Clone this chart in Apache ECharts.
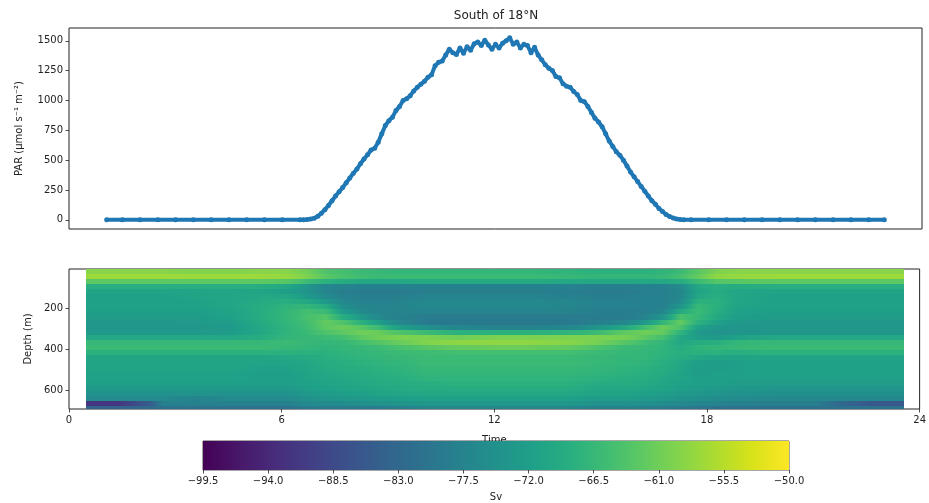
<!DOCTYPE html>
<html><head><meta charset="utf-8">
<script src="https://cdn.jsdelivr.net/npm/echarts@6/dist/echarts.min.js"></script>
<style>html,body{margin:0;padding:0;background:#fff}#c{width:929px;height:503px}</style>
</head><body><div id="c"></div>
<script>
// ---- PAR (top panel) ----
const parTimes = [1.06,1.5,2.0,2.5,3.0,3.5,4.0,4.5,5.0,5.5,6.0,6.5,
 6.6,6.7,6.8,6.9,7.0,7.1,7.2,7.3,7.4,7.5,7.6,7.7,7.8,7.9,8.0,8.1,8.2,8.3,8.4,8.5,8.6,8.7,8.8,8.9,9.0,9.1,9.2,9.3,9.4,9.5,
 9.6,9.7,9.8,9.9,10.0,10.1,10.2,10.3,10.4,10.5,10.6,10.7,10.8,10.9,11.0,11.1,11.2,11.3,11.4,11.5,11.6,11.7,11.8,11.9,12.0,
 12.1,12.2,12.3,12.4,12.5,12.6,12.7,12.8,12.9,13.0,13.1,13.2,13.3,13.4,13.5,13.6,13.7,13.8,13.9,14.0,14.1,14.2,14.3,14.4,14.5,
 14.6,14.7,14.8,14.9,15.0,15.1,15.2,15.3,15.4,15.5,15.6,15.7,15.8,15.9,16.0,16.1,16.2,16.3,16.4,16.5,16.6,16.7,16.8,16.9,17.0,
 17.1,17.2,17.3,17.5,18.0,18.5,19.0,19.5,20.0,20.5,21.0,21.5,22.0,22.5,22.94];
const parValues = [0,0,0,0,0,0,0,0,0,0,0,0,
 1,3,7,14,30,55,85,120,160,200,235,270,310,350,390,425,470,510,545,585,600,650,720,790,830,860,915,950,1000,1015,
 1040,1080,1110,1135,1160,1195,1215,1290,1320,1330,1380,1430,1400,1385,1440,1395,1450,1420,1475,1490,1460,1505,1465,1430,1470,
 1440,1480,1500,1525,1470,1490,1440,1470,1460,1400,1445,1380,1340,1300,1270,1250,1200,1190,1140,1120,1110,1075,1050,1000,990,
 950,900,850,820,780,720,660,615,570,540,500,450,400,360,320,280,240,200,160,130,95,70,45,28,15,
 7,3,0,0,0,0,0,0,0,0,0,0,0,0,0];

// ---- Sv heatmap (bottom panel): column edges (h), row edges (m), one Sv column per time slot ----
const timeEdges = [0.48,2.3,3.0,4.1,5.0,5.75,6.5,7.0,7.5,8.0,8.5,9.0,9.75,10.5,11.5,12.5,13.5,14.5,15.25,16.0,16.5,17.0,17.5,18.0,18.5,19.25,20.5,21.6,23.55];
const depthEdges = [8,30,55,80,105,130,155,180,205,230,255,280,305,330,355,380,405,430,455,480,505,530,555,580,605,630,655,675,692];
const svColumns = [
 [-59,-57.5,-62.5,-68.5,-71,-71.5,-71.5,-71.5,-72,-72.5,-73.5,-73.5,-73,-70,-66.5,-66,-68,-70.5,-71,-71,-71.5,-71.5,-72,-73,-74.5,-76,-92,-84],
 [-59,-57.5,-62.5,-68.5,-71,-71.5,-71.5,-71.5,-72,-72.5,-73.5,-73.5,-73,-70,-66.5,-66,-68,-70.5,-71,-71,-71.5,-71.5,-72,-73,-74.5,-76,-78,-81],
 [-59.5,-57.5,-62.5,-68.5,-71,-71,-71.5,-71.5,-72,-72.5,-73,-73.5,-73,-70,-66.5,-66,-68,-70.5,-71,-71,-71.5,-71.5,-72,-73,-74.5,-77.5,-78,-81],
 [-59.5,-57.5,-62.5,-68.5,-70.5,-70.5,-70.5,-70.5,-71,-71.5,-72.5,-73,-72.5,-70,-66.5,-66,-68,-70.5,-71,-71,-71.5,-71.5,-72,-73,-74.5,-76,-78,-81],
 [-59,-57.5,-62.5,-68.5,-70.5,-70,-69.5,-69,-69,-69,-69.5,-70,-70,-69,-66.5,-66,-68,-70.5,-71,-71.5,-72,-72,-72,-73,-74.5,-76,-78,-81],
 [-59,-58,-63,-70,-72,-70,-68.5,-67.5,-67,-67,-67,-67.5,-67.5,-67,-66,-66.5,-68,-70,-71,-71.5,-72,-72,-72,-73,-74.5,-76,-78,-81],
 [-61,-60,-66,-74,-74,-73,-70,-67,-65,-64.5,-65,-65.5,-66,-66.5,-66.5,-67,-68,-69.5,-70,-70.5,-71,-71,-71.5,-72,-73,-74.5,-76,-79],
 [-64,-63,-68,-77,-77.5,-76,-73,-69,-66,-63.5,-62,-62.5,-64,-66,-67,-67.5,-68,-68.5,-69,-69.5,-70,-70.5,-71,-71.5,-72.5,-74,-76,-79],
 [-65,-64.5,-69,-77.5,-78.5,-78,-77,-75.5,-73,-69,-64,-61.5,-62.5,-65,-66.5,-67,-67.5,-68,-68.5,-69,-69.5,-70,-70.5,-71,-72,-73.5,-75.5,-79],
 [-66,-65.5,-70,-78,-79,-78.5,-78,-77,-76,-73,-68,-63,-61,-62.5,-65,-66.5,-67,-67.5,-68,-68.5,-69,-69.5,-70,-70.5,-71.5,-73,-75,-79],
 [-66.5,-66,-70,-78,-79,-78.5,-78,-77.5,-77.5,-76.5,-72,-66,-61.5,-61,-63.5,-66,-66.5,-67,-67.5,-68,-68.5,-69,-69.5,-70,-71,-72.5,-74.5,-79],
 [-67,-66,-70,-78,-79,-78.5,-77.5,-77,-77.5,-78,-77,-72,-64,-60,-61.5,-64.5,-66,-66.5,-67,-67.5,-68,-68.5,-69,-69.5,-70.5,-72,-74,-78],
 [-67,-66,-69.5,-78,-78.5,-77.5,-76.5,-76.5,-77.5,-79,-79.5,-75,-66,-60,-59.5,-63,-65.5,-66,-66,-66.5,-67,-67.5,-68.5,-69,-70,-71.5,-73.5,-77],
 [-67,-66,-69.5,-78,-78.5,-77.5,-76.5,-76.5,-77.5,-79,-79.5,-77,-68,-61,-58.5,-62,-65,-66,-66,-66.5,-67,-67.5,-68,-69,-70,-71.5,-73.5,-77],
 [-67,-66,-69.5,-78,-78.5,-77.5,-76.5,-76.5,-77.5,-79,-79.5,-77.5,-68,-60,-58.5,-61.5,-65,-66,-66,-66.5,-67,-67.5,-68,-69,-70,-71.5,-73.5,-77],
 [-67,-66,-69.5,-78,-78.5,-77.5,-76.5,-76.5,-77.5,-79,-79.5,-77.5,-68,-60,-58.5,-61.5,-65,-66,-66,-66.5,-67,-67.5,-68,-69,-70,-71.5,-73.5,-77],
 [-67.5,-66.5,-70,-78,-78.5,-78,-77,-77,-77.5,-79,-79.5,-77,-67.5,-60,-59,-62,-65,-66,-66,-66.5,-67,-67.5,-68,-69,-70,-71.5,-73.5,-77],
 [-68,-67,-70,-78.5,-79,-78.5,-78,-78,-78.5,-79,-78.5,-74,-66,-60,-60.5,-64,-66,-66.5,-66.5,-67,-67.5,-68,-69,-70,-71,-72.5,-74.5,-78],
 [-68,-67,-70,-78.5,-79,-78.5,-78,-78,-78.5,-79,-77,-70,-62.5,-60.5,-63,-66,-66.5,-67,-67,-67.5,-68,-68.5,-69,-70,-71,-72.5,-74.5,-78],
 [-68,-67,-70,-78,-78.5,-78,-78,-78,-78.5,-77.5,-73,-65,-61,-62.5,-65.5,-66.5,-67,-67,-67.5,-68,-68.5,-69,-69.5,-70.5,-71.5,-73,-75,-78.5],
 [-67.5,-66.5,-70,-78,-78,-78,-78,-78,-77,-74,-67,-61.5,-62,-65,-67,-67.5,-67.5,-68,-68.5,-69,-69.5,-70,-70.5,-71,-72,-73.5,-75.5,-79],
 [-66,-65,-69,-76,-77,-77,-76,-74,-69.5,-64.5,-62,-64,-67.5,-70,-70,-69,-68.5,-69,-70,-70.5,-71,-71,-71.5,-72,-73,-74.5,-76.5,-79.5],
 [-63,-62,-66,-70,-71,-70,-68,-66.5,-66,-66.5,-68,-71.5,-73,-72.5,-69,-67.5,-68,-70,-72,-72.5,-72.5,-72,-72,-72.5,-73.5,-75,-77,-80],
 [-60,-58.5,-63.5,-68.5,-69,-68.5,-68,-68,-68.5,-69.5,-71.5,-73.5,-74.5,-73,-68.5,-67,-68,-71,-72.5,-72.5,-72,-72,-72,-73,-74,-75.5,-77.5,-81],
 [-59,-58,-63,-69,-70.5,-70.5,-70.5,-71,-71.5,-72,-73,-74,-74,-71.5,-67,-66.5,-68.5,-71,-72,-72,-72,-72,-72.5,-73.5,-74.5,-76,-78,-81],
 [-59,-57.5,-62.5,-68.5,-71,-71.5,-71.5,-71.5,-72,-72.5,-73.5,-73.5,-73.5,-70,-66.5,-66,-68,-71,-71.5,-71.5,-71.5,-72,-72.5,-74,-75,-76.5,-78.5,-81],
 [-59,-57.5,-62.5,-68.5,-71,-71.5,-71.5,-71.5,-72,-72.5,-73.5,-73.5,-73.5,-70,-66.5,-66,-68,-71,-71.5,-71.5,-71.5,-72,-72.5,-74,-75,-76.5,-78.5,-81],
 [-59,-57.5,-62.5,-68.5,-71,-71.5,-71.5,-71.5,-72,-72.5,-73.5,-73.5,-73.5,-70,-66.5,-66,-68,-71,-71.5,-71.5,-71.5,-72,-72.5,-74,-75,-76.5,-86,-81]
];

// ---- ticks ----
const parTicks = [0,250,500,750,1000,1250,1500];
const timeTicks = [0,6,12,18,24];
const depthTicks = [200,400,600];
const svTicks = [-99.5,-94,-88.5,-83,-77.5,-72,-66.5,-61,-55.5,-50];
const svMin = -99.5, svMax = -50;

const viridis = ['#440154','#48186a','#472d7b','#424086','#3b528b','#33638d','#2c728e','#26828e','#21918c',
 '#1fa088','#28ae80','#3fbc73','#5ec962','#84d44b','#addc30','#d8e219','#fde725'];

const chart = echarts.init(document.getElementById('c'));
const FONT = 'DejaVu Sans';
const txt = {color:'#222', fontSize:10, fontFamily: FONT};

// cells: [t0, t1, d0, d1, sv, col, row]
const cells = [];
svColumns.forEach((col, i) => col.forEach((v, j) => {
  cells.push([timeEdges[i], timeEdges[i+1], depthEdges[j], depthEdges[j+1], v, i, j]);
}));

// colour of a value through the library's own colour interpolation (same ramp as the visualMap)
const svColor = v => echarts.color.lerp(Math.max(0, Math.min(1, (v - svMin) / (svMax - svMin))), viridis);

function cellItem(params, api) {
  const p0 = api.coord([api.value(0), api.value(2)]);
  const p1 = api.coord([api.value(1), api.value(3)]);
  const x0 = Math.round(Math.min(p0[0], p1[0])), x1 = Math.round(Math.max(p0[0], p1[0]));
  const y0 = Math.round(Math.min(p0[1], p1[1])), y1 = Math.round(Math.max(p0[1], p1[1]));
  const i = api.value(5), j = api.value(6), v = api.value(4);
  const own = api.visual('color');
  const left = i > 0 ? svColor((svColumns[i-1][j] + v) / 2) : own;
  const right = i < svColumns.length - 1 ? svColor((svColumns[i+1][j] + v) / 2) : own;
  const fill = new echarts.graphic.LinearGradient(0, 0, 1, 0, [
    {offset:0, color:left}, {offset:0.5, color:own}, {offset:1, color:right}]);
  return {type:'rect', shape:{x:x0, y:y0, width:x1-x0, height:y1-y0}, style:{fill: fill}};
}

const cbGradient = new echarts.graphic.LinearGradient(0,0,1,0,
  viridis.map((c,i) => ({offset: i/(viridis.length-1), color: c})));

const tick = {show:true, inside:false, length:3.5, lineStyle:{color:'#222', width:0.8}};

const option = {
  animation: false,
  backgroundColor: '#fff',
  title: {text:'South of 18°N', left: 496, top: 10, textAlign:'center', padding:0,
    textStyle:{fontFamily:FONT, fontSize:12, fontWeight:'normal', color:'#222'}},
  grid: [
    {left:69, top:28, width:853, height:201, show:true, borderColor:'#222', borderWidth:1, backgroundColor:'transparent'},
    {left:69, top:269, width:853, height:140, show:true, borderColor:'#222', borderWidth:1, backgroundColor:'transparent'},
    {left:203, top:441, width:586, height:30, show:true, borderColor:'#222', borderWidth:0.8, backgroundColor:'transparent'}
  ],
  xAxis: [
    {gridIndex:0, type:'value', min:0, max:24, axisLine:{show:false}, axisTick:{show:false}, axisLabel:{show:false}, splitLine:{show:false}},
    {gridIndex:1, type:'value', min:0, max:24, axisLine:{show:false}, splitLine:{show:false},
      axisTick:Object.assign({customValues: timeTicks}, tick),
      axisLabel:Object.assign({customValues: timeTicks, margin:6}, txt),
      name:'Time', nameLocation:'middle', nameGap:26, nameTextStyle:txt},
    {gridIndex:2, type:'value', min:svMin, max:svMax, axisLine:{show:false}, splitLine:{show:false},
      axisTick:Object.assign({customValues: svTicks}, tick),
      axisLabel:Object.assign({customValues: svTicks, margin:6,
        formatter: v => v.toFixed(1).replace('-', '\u2212')}, txt),
      name:'Sv', nameLocation:'middle', nameGap:22, nameTextStyle:txt}
  ],
  yAxis: [
    {gridIndex:0, type:'value', min:-77, max:1607, axisLine:{show:false}, splitLine:{show:false},
      axisTick:Object.assign({customValues: parTicks}, tick),
      axisLabel:Object.assign({customValues: parTicks, margin:6, formatter: v => String(v)}, txt),
      name:'PAR (µmol s\u207B\u00B9 m\u207B\u00B2)', nameLocation:'middle', nameGap:45, nameTextStyle:txt},
    {gridIndex:1, type:'value', inverse:true, min:8, max:692, axisLine:{show:false}, splitLine:{show:false},
      axisTick:Object.assign({customValues: depthTicks}, tick),
      axisLabel:Object.assign({customValues: depthTicks, margin:6, formatter: v => String(v)}, txt),
      name:'Depth (m)', nameLocation:'middle', nameGap:33, nameTextStyle:txt},
    {gridIndex:2, type:'value', min:0, max:1, show:false}
  ],
  visualMap: {type:'continuous', show:false, seriesIndex:1, dimension:4, min:svMin, max:svMax, inRange:{color: viridis}},
  series: [
    {type:'line', xAxisIndex:0, yAxisIndex:0, data: parTimes.map((t,i) => [t, parValues[i]]),
      symbol:'circle', symbolSize:5, showSymbol:true, color:'#1f77b4',
      lineStyle:{width:4, color:'#1f77b4'}, itemStyle:{color:'#1f77b4', borderWidth:0}, z:3},
    {type:'custom', xAxisIndex:1, yAxisIndex:1, data: cells, encode:{x:[0,1], y:[2,3]}, renderItem: cellItem, z:1},
    {type:'custom', xAxisIndex:2, yAxisIndex:2, data: [[svMin, svMax]], encode:{x:[0,1]},
      renderItem: (params, api) => {
        const p0 = api.coord([api.value(0), 1]);
        const p1 = api.coord([api.value(1), 0]);
        return {type:'rect', shape:{x:p0[0], y:p0[1], width:p1[0]-p0[0], height:p1[1]-p0[1]}, style:{fill: cbGradient}};
      }, z:3}
  ]
};
chart.setOption(option);
</script>
</body></html>
